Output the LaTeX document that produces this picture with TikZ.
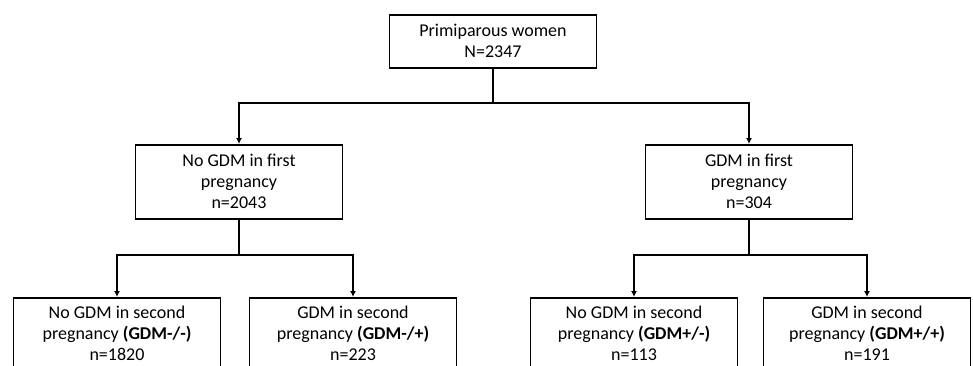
\documentclass[tikz,border=0pt]{standalone}
\usepackage{fontspec}
\setmainfont{Carlito}
\usetikzlibrary{arrows.meta}

\tikzset{
  box/.style={draw, line width=1.5pt, minimum width=207pt, align=center,
    font=\fontsize{18}{21}\selectfont, inner sep=0pt, anchor=north},
  link/.style={line width=1.5pt},
  >={Latex[length=6pt,width=6pt]}
}

\begin{document}
\begin{tikzpicture}[x=1pt,y=-1pt]
		\clip (0,0) rectangle (973,365);
		\node[box, minimum height=53pt] (women) at (493,14) {Primiparous women\\N=2347};
		\node[box, minimum height=74pt] (nofirst) at (239,144) {No GDM in first\\pregnancy\\n=2043};
		\node[box, minimum height=74pt] (first) at (749,144) {GDM in first\\pregnancy\\n=304};
		\node[box, minimum height=71pt] (nn) at (117,297) {No GDM in second\\pregnancy \textbf{(GDM-/-)}\\n=1820};
		\node[box, minimum height=71pt] (np) at (353,297) {GDM in second\\pregnancy \textbf{(GDM-/+)}\\n=223};
		\node[box, minimum height=71pt] (pn) at (634,297) {No GDM in second\\pregnancy \textbf{(GDM+/-)}\\n=113};
		\node[box, minimum height=71pt] (pp) at (867,297) {GDM in second\\pregnancy \textbf{(GDM+/+)}\\n=191};
		% first split
		\draw [link] (women.south) -- (women.south |- 0,103) coordinate (j0);
		\draw [link,->] (j0) -| (nofirst.north);
		\draw [link,->] (j0) -| (first.north);
		% second splits
		\draw [link] (nofirst.south) -- (nofirst.south |- 0,255) coordinate (j1);
		\draw [link,->] (j1) -| (nn.north);
		\draw [link,->] (j1) -| (np.north);
		\draw [link] (first.south) -- (first.south |- 0,255) coordinate (j2);
		\draw [link,->] (j2) -| (pn.north);
		\draw [link,->] (j2) -| (pp.north);
		\end{tikzpicture}
\end{document}
